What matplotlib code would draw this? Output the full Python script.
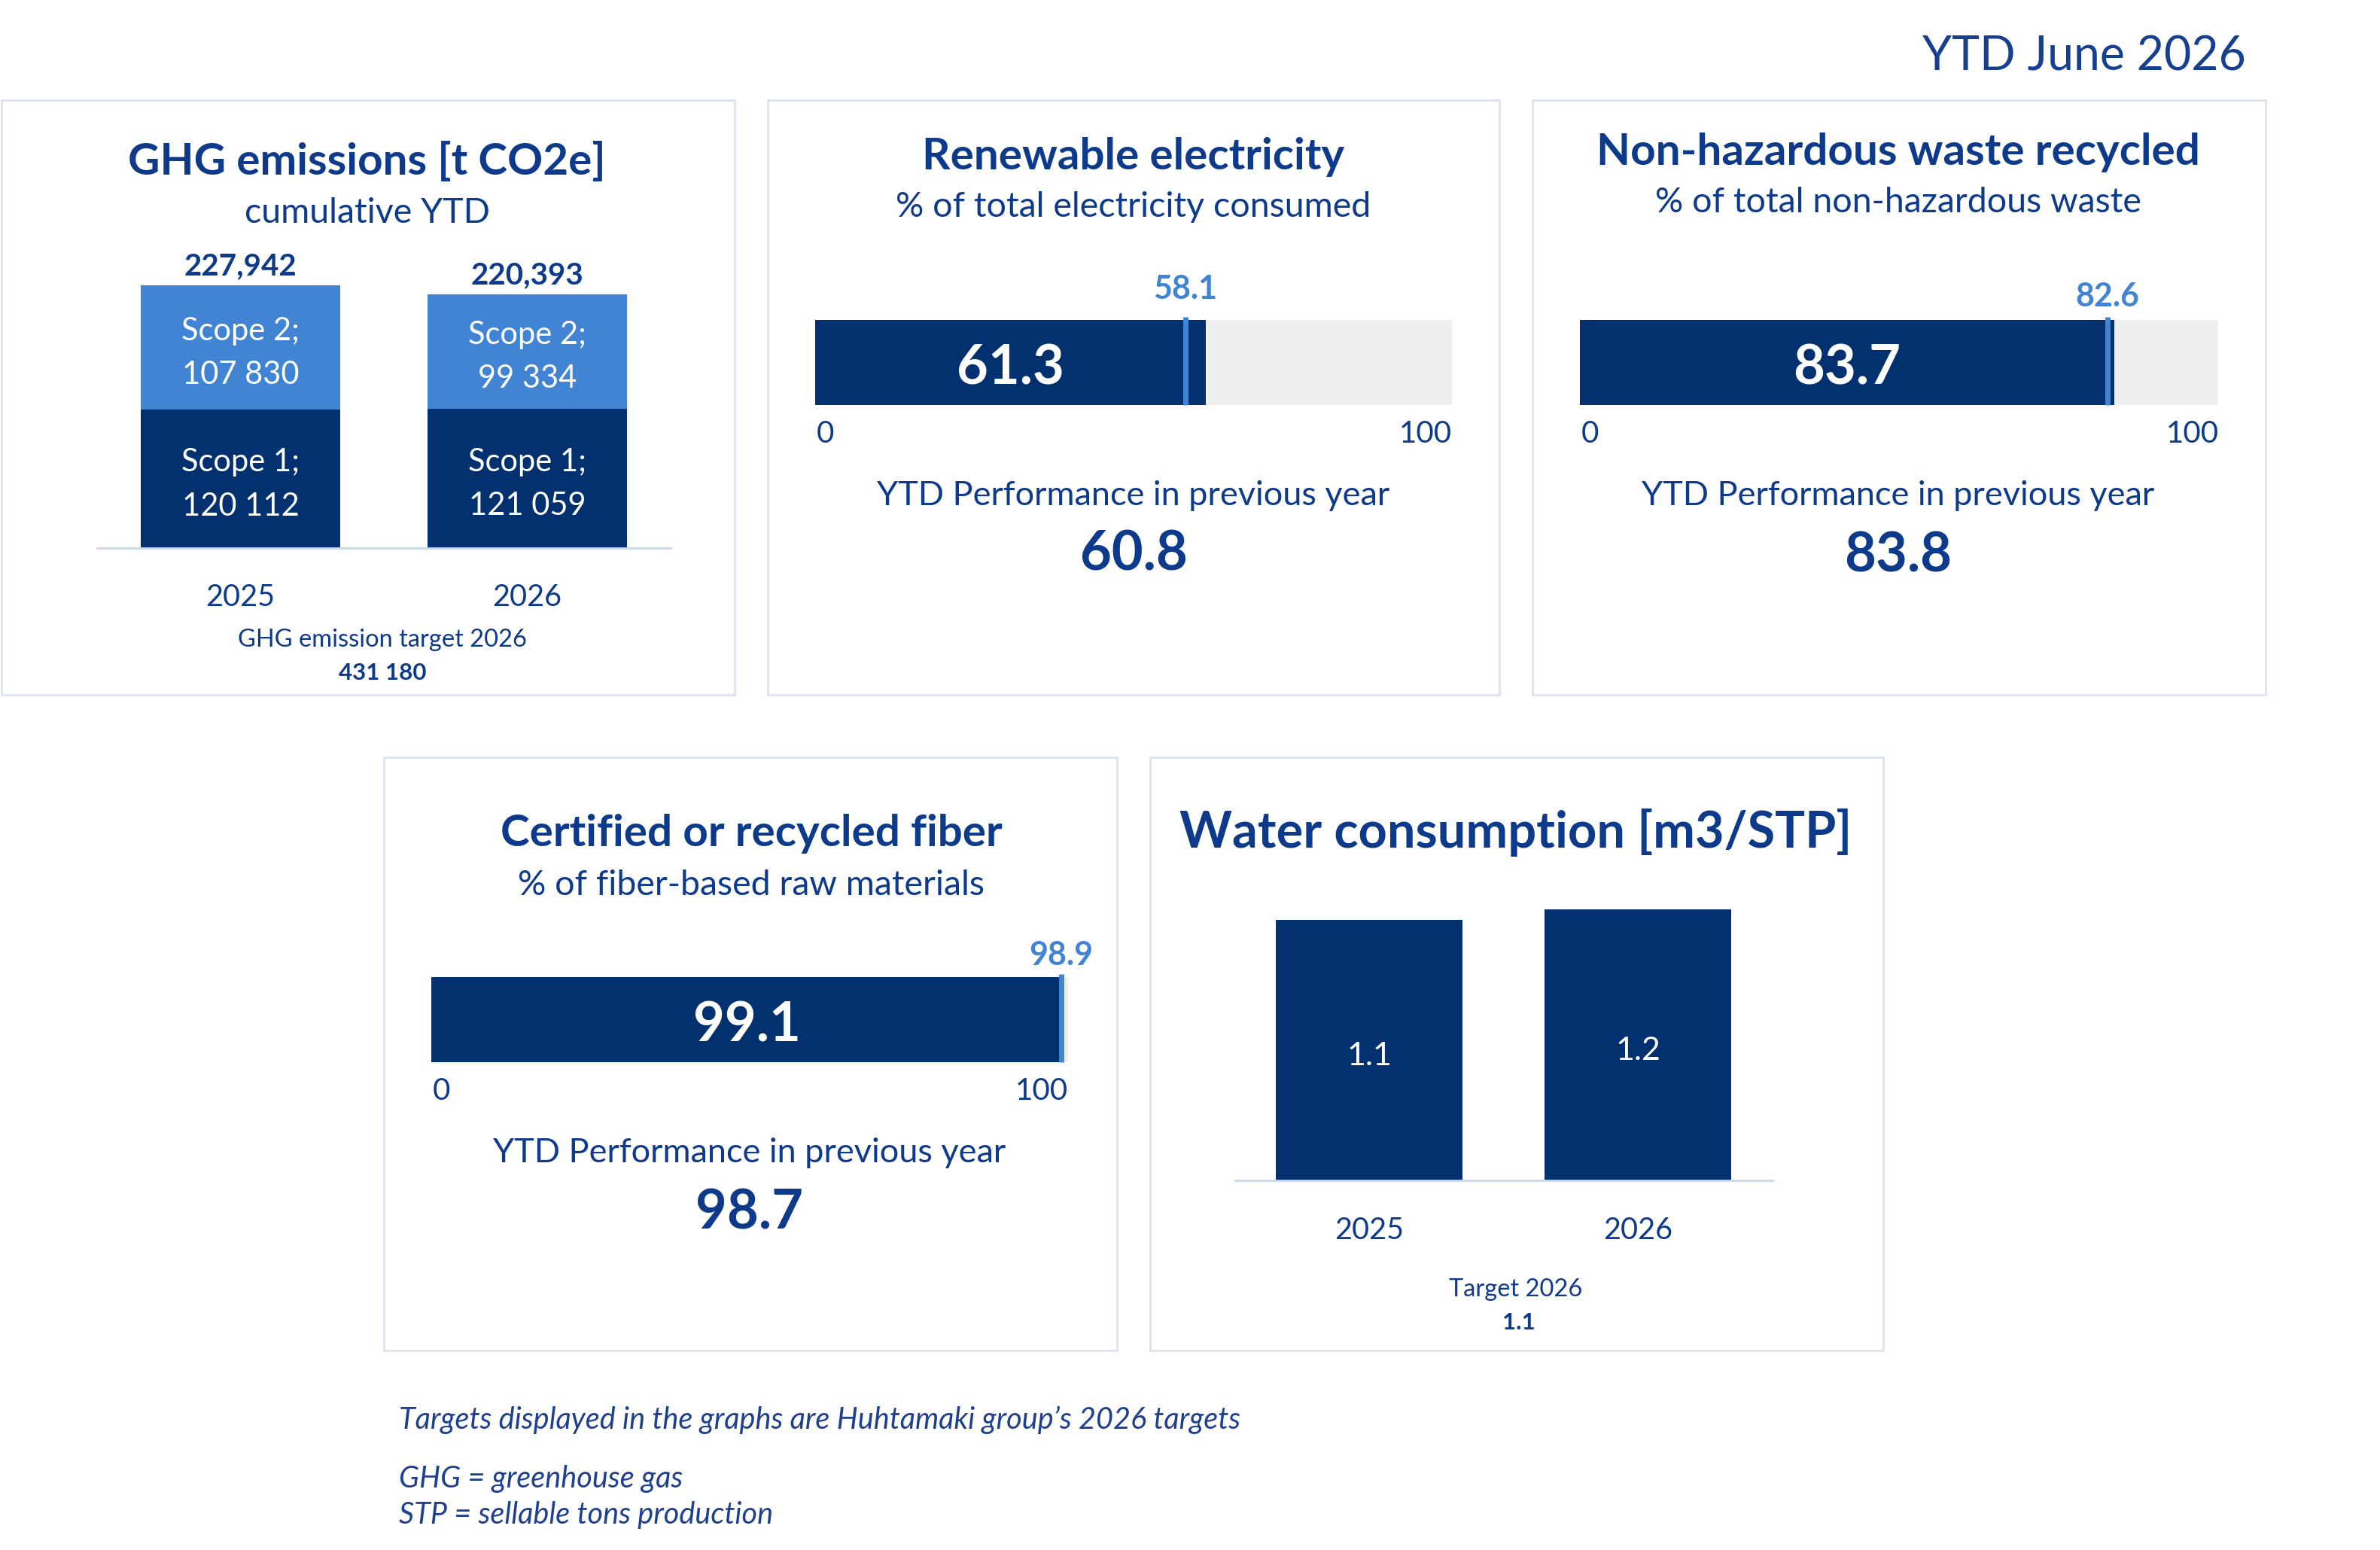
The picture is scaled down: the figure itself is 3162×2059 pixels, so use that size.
import matplotlib
matplotlib.use('Agg')
import matplotlib.pyplot as plt
from matplotlib.patches import Rectangle

plt.rcParams['font.family'] = ['Lato', 'DejaVu Sans']

# Données
years = ['2025', '2026']
scope1 = [120112, 121059]
scope2 = [107830, 99334]
ghg_target = 431180

renew_value, renew_target, renew_prev = 61.3, 58.1, 60.8
waste_value, waste_target, waste_prev = 83.7, 82.6, 83.8
fiber_value, fiber_target, fiber_prev = 99.1, 98.9, 98.7

water = [1.148, 1.195]
water_target = 1.1

NAVY = '#03306e'
LIGHT = '#4184d4'
GRAY = '#efefef'
TXT = '#0d3a8a'
BORDER = '#dae3f3'
AXLINE = '#c5d9f1'

W, H = 3162, 2059
S = 2.016  # échelle de la maquette


def fx(x):
    return x * S / W


def fy(y):
    return 1 - y * S / H


def add_ax(x0, y0, x1, y1):
    return fig.add_axes([fx(x0), fy(y1), fx(x1) - fx(x0), fy(y0) - fy(y1)])


def ftext(x, y, s, **kw):
    kw.setdefault('color', TXT)
    kw.setdefault('ha', 'center')
    kw.setdefault('va', 'center')
    # petit décalage : le centre matplotlib inclut les descendantes
    fig.text(fx(x), fy(y + 2.5), s, **kw)


def panel(x0, y0, x1, y1):
    fig.patches.append(Rectangle((fx(x0), fy(y1)), fx(x1) - fx(x0), fy(y0) - fy(y1),
                                 transform=fig.transFigure, fill=False,
                                 edgecolor=BORDER, lw=2))


def fmt_space(v):
    return f'{v:,}'.replace(',', ' ')


def bullet(ax, value, target, label_y):
    ax.barh(0.5, 100, height=1, color=GRAY)
    ax.barh(0.5, value, height=1, color=NAVY)
    ax.plot([target, target], [0, 1.04], color=LIGHT, lw=5,
            solid_capstyle='butt', clip_on=False)
    ax.set_xlim(0, 100)
    ax.set_ylim(0, 1)
    ax.axis('off')
    ax.text(value / 2, 0.43, f'{value:.1f}', color='white', fontsize=52,
            fontweight='bold', ha='center', va='center')
    ax.text(target, label_y, f'{target:.1f}', color=LIGHT, fontsize=31,
            fontweight='bold', ha='center', va='center')
    ax.text(0.3, -0.34, '0', color=TXT, fontsize=29, ha='left', va='center')
    ax.text(100, -0.34, '100', color=TXT, fontsize=29, ha='right', va='center')


def column_axes(ax, top):
    ax.set_xlim(-0.5, 1.5)
    ax.set_ylim(0, top)
    for side in ['top', 'left', 'right']:
        ax.spines[side].set_visible(False)
    ax.spines['bottom'].set_color(AXLINE)
    ax.spines['bottom'].set_linewidth(2)
    ax.set_yticks([])
    ax.set_xticks(range(len(years)))
    ax.set_xticklabels(years, fontsize=28.5, color=TXT)
    ax.tick_params(axis='x', length=0, pad=34)
    ax.patch.set_alpha(0)


fig = plt.figure(figsize=(W / 100, H / 100), dpi=100)

ftext(1480, 35, 'YTD June 2026', fontsize=45, ha='right', color='#163f8f')

# Cadres
panel(1, 66, 484, 458)
panel(506, 66, 988, 458)
panel(1010, 66, 1493, 458)
panel(253, 499, 736, 890)
panel(758, 499, 1241, 890)

# GHG
ftext(242, 104, 'GHG emissions [t CO2e]', fontsize=42, fontweight='bold')
ftext(242, 138, 'cumulative YTD', fontsize=33.5)
ax = add_ax(64, 160, 442, 361)
x = range(len(years))
ax.bar(x, scope1, width=0.695, color=NAVY)
ax.bar(x, scope2, width=0.695, bottom=scope1, color=LIGHT)
column_axes(ax, 264800)
for i in x:
    ax.text(i, scope1[i] / 2 - 5000, f'Scope 1;\n{fmt_space(scope1[i])}', color='white',
            fontsize=30, ha='center', va='center', linespacing=1.65)
    ax.text(i, scope1[i] + scope2[i] / 2 - 5000, f'Scope 2;\n{fmt_space(scope2[i])}',
            color='white', fontsize=30, ha='center', va='center', linespacing=1.65)
    total = scope1[i] + scope2[i]
    ax.annotate(f'{total:,}', (i, total), xytext=(0, 18), textcoords='offset points',
                ha='center', va='center', fontsize=29, fontweight='bold', color=TXT)
ftext(252, 419, 'GHG emission target 2026', fontsize=23.5)
ftext(252, 441, fmt_space(ghg_target), fontsize=22.5, fontweight='bold')

# Renewable electricity
ftext(747, 101, 'Renewable electricity', fontsize=42, fontweight='bold')
ftext(747, 134, '% of total electricity consumed', fontsize=33.5)
ax = add_ax(537, 211, 957, 267)
bullet(ax, renew_value, renew_target, 1.37)
ftext(747, 324, 'YTD Performance in previous year', fontsize=32.5)
ftext(747, 363, f'{renew_prev:.1f}', fontsize=52, fontweight='bold')

# Non-hazardous waste
ftext(1251, 98, 'Non-hazardous waste recycled', fontsize=42, fontweight='bold')
ftext(1251, 131, '% of total non-hazardous waste', fontsize=33.5)
ax = add_ax(1041, 211, 1462, 267)
bullet(ax, waste_value, waste_target, 1.28)
ftext(1251, 324, 'YTD Performance in previous year', fontsize=32.5)
ftext(1251, 364, f'{waste_prev:.1f}', fontsize=52, fontweight='bold')

# Fiber
ftext(495, 547, 'Certified or recycled fiber', fontsize=42, fontweight='bold')
ftext(495, 581, '% of fiber-based raw materials', fontsize=33.5)
ax = add_ax(284, 644, 704, 700)
bullet(ax, fiber_value, fiber_target, 1.26)
ftext(494, 757, 'YTD Performance in previous year', fontsize=32.5)
ftext(494, 797, f'{fiber_prev:.1f}', fontsize=52, fontweight='bold')

# Water
ftext(999, 546, 'Water consumption [m3/STP]', fontsize=48, fontweight='bold')
ax = add_ax(814, 590, 1168, 778)
ax.bar(x, water, width=0.695, color=NAVY)
column_axes(ax, 1.255)
for i in x:
    ax.text(i, water[i] / 2 - 0.025, f'{water[i]:.1f}', color='white', fontsize=31,
            ha='center', va='center')
ftext(999, 847, 'Target 2026', fontsize=23.5)
ftext(1001, 869, f'{water_target:.1f}', fontsize=22.5, fontweight='bold')

# Notes
note_kw = dict(fontsize=28.5, style='italic', ha='left', color='#1f3f8f')
ftext(263, 933, 'Targets displayed in the graphs are Huhtamaki group’s 2026 targets', **note_kw)
ftext(263, 972, 'GHG = greenhouse gas', **note_kw)
ftext(263, 996, 'STP = sellable tons production', **note_kw)

fig.savefig('out.png', dpi=100)
